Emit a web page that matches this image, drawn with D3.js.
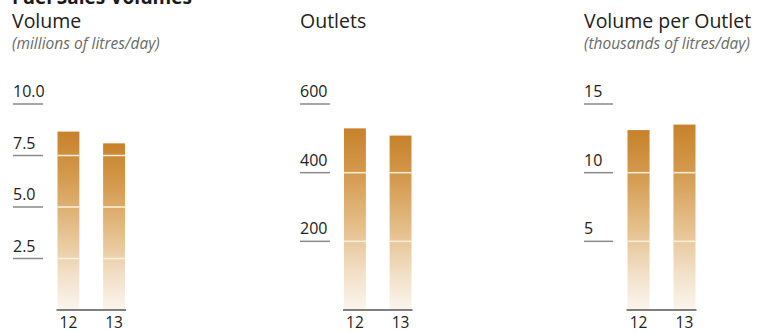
<!DOCTYPE html>
<html>
<head>
<meta charset="utf-8">
<script src="https://cdn.jsdelivr.net/npm/d3@7"></script>
<style>
  html, body { margin: 0; padding: 0; background: #fff; }
  svg { display: block; }
  text { font-family: "Open Sans", "Noto Sans", sans-serif; }
</style>
</head>
<body>
<svg id="chart" width="757" height="333"></svg>
<script>
// Fuel sales volumes, fiscal years 12 and 13
const years = ["12", "13"];

const volumeValues = [8.66, 8.09];          // millions of litres/day
const outletValues = [529, 508];            // number of outlets
const perOutletValues = [13.1, 13.5];       // thousands of litres/day

const volumeTicks = [2.5, 5.0, 7.5, 10.0];
const outletTicks = [200, 400, 600];
const perOutletTicks = [5, 10, 15];

const chartTitle = "Fuel Sales Volumes";

const panels = [
  { title: "Volume", subtitle: "(millions of litres/day)", values: volumeValues,
    ticks: volumeTicks, max: 10, fmt: d3.format(".1f"),
    titleX: 12, tickX: [13, 43], band: [57.5, 125] },
  { title: "Outlets", subtitle: "", values: outletValues,
    ticks: outletTicks, max: 600, fmt: d3.format("d"),
    titleX: 300, tickX: [300, 330], band: [344, 411.5] },
  { title: "Volume per Outlet", subtitle: "(thousands of litres/day)", values: perOutletValues,
    ticks: perOutletTicks, max: 15, fmt: d3.format("d"),
    titleX: 584, tickX: [584, 613], band: [627.5, 695.5] }
];

const svg = d3.select("#chart");
const baseY = 310, topY = 104;

// vertical gradient used by every bar
const grad = svg.append("defs").append("linearGradient")
  .attr("id", "barFill").attr("x1", 0).attr("y1", 0).attr("x2", 0).attr("y2", 1);
[[0, "#c7822a"], [0.25, "#d49a4e"], [0.55, "#e5c08c"], [0.8, "#f2e0c8"], [1, "#fbf5ee"]]
  .forEach(([o, c]) => grad.append("stop").attr("offset", o).attr("stop-color", c));

// overall heading, partly above the top edge
svg.append("text").attr("x", 12).attr("y", 4)
  .attr("font-size", 19).attr("font-weight", 700).attr("fill", "#1a1a1a")
  .text(chartTitle);

panels.forEach(p => {
  const g = svg.append("g");
  const y = d3.scaleLinear().domain([0, p.max]).range([baseY, topY]);
  const x = d3.scaleBand().domain(years).range(p.band).paddingInner(0.52).paddingOuter(0);

  g.append("text").attr("x", p.titleX).attr("y", 28)
    .attr("font-size", 19.5).attr("fill", "#222").text(p.title);
  if (p.subtitle) {
    g.append("text").attr("x", p.titleX).attr("y", 49)
      .attr("font-size", 15.5).attr("font-style", "italic").attr("fill", "#6a6a6a")
      .text(p.subtitle);
  }

  // tick rules and their labels on the left
  const tk = g.selectAll(".tick").data(p.ticks).join("g").attr("class", "tick");
  tk.append("line")
    .attr("x1", p.tickX[0]).attr("x2", p.tickX[1])
    .attr("y1", d => y(d)).attr("y2", d => y(d))
    .attr("stroke", "#8a8a8a").attr("stroke-width", 1.5);
  tk.append("text")
    .attr("x", p.tickX[0]).attr("y", d => y(d) - 7)
    .attr("font-size", 16).attr("fill", "#222")
    .text(d => p.fmt(d));

  // bars
  g.selectAll(".bar").data(p.values).join("rect").attr("class", "bar")
    .attr("x", (d, i) => x(years[i]))
    .attr("width", x.bandwidth())
    .attr("y", d => y(d))
    .attr("height", d => baseY - y(d))
    .attr("fill", "url(#barFill)");

  // light rules across the bars at each tick below the bar top
  p.values.forEach((v, i) => {
    g.selectAll(null).data(p.ticks.filter(t => t < v)).join("line")
      .attr("x1", x(years[i])).attr("x2", x(years[i]) + x.bandwidth())
      .attr("y1", d => y(d)).attr("y2", d => y(d))
      .attr("stroke", "#fdf1dc").attr("stroke-width", 1.5);
  });

  // baseline
  g.append("line")
    .attr("x1", p.band[0] - 1).attr("x2", p.band[1] + 1)
    .attr("y1", baseY).attr("y2", baseY)
    .attr("stroke", "#555").attr("stroke-width", 1.5);

  // year labels
  g.selectAll(".yr").data(years).join("text").attr("class", "yr")
    .attr("x", d => x(d) + x.bandwidth() / 2).attr("y", 328)
    .attr("text-anchor", "middle").attr("font-size", 15.5).attr("fill", "#222")
    .text(d => d);
});
</script>
</body>
</html>
